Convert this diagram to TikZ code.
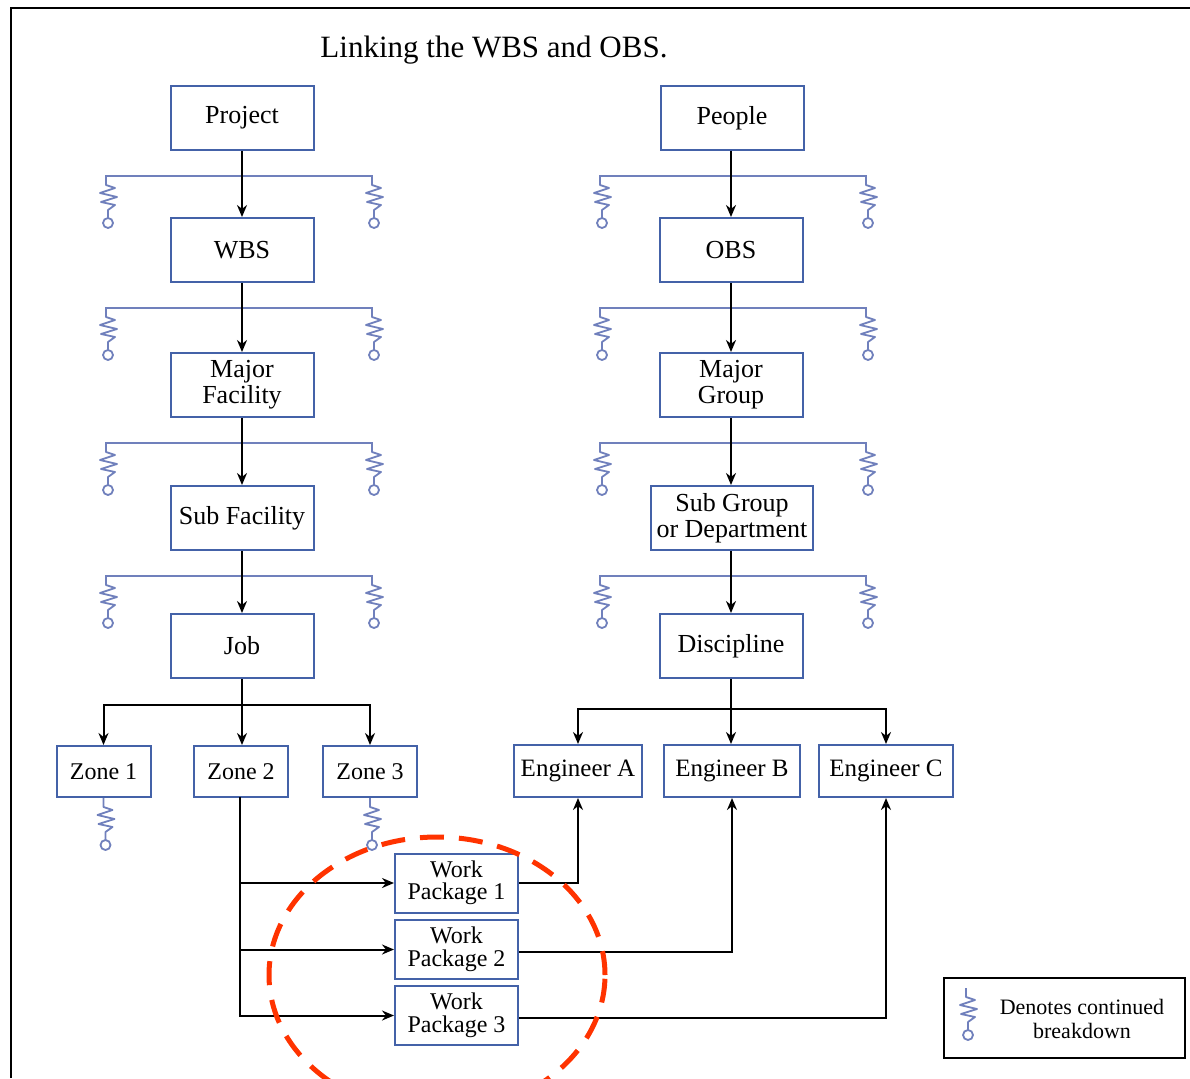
\documentclass[tikz,border=0pt]{standalone}
\usepackage{fontspec}
\setmainfont{Liberation Serif}
\usetikzlibrary{arrows.meta}
\definecolor{boxblue}{RGB}{68,98,168}
\definecolor{brblue}{RGB}{112,128,188}
\definecolor{redd}{RGB}{255,51,0}
\begin{document}
\begin{tikzpicture}[x=1pt,y=-1pt,
  box/.style={draw=boxblue,line width=2pt,fill=white,inner sep=0pt,align=center,font=\fontsize{26}{26}\selectfont},
  bigbox/.style={box,minimum width=143pt,minimum height=64pt},
  zonebox/.style={box,minimum width=94pt,minimum height=51pt,font=\fontsize{24}{24}\selectfont},
  engbox/.style={box,minimum height=52pt,font=\fontsize{25}{25}\selectfont},
  wpbox/.style={box,minimum width=123pt,minimum height=59pt,font=\fontsize{24}{22.5}\selectfont},
  arr/.style={draw=black,line width=2pt,-{Stealth[length=12pt,width=10pt]}},
  br/.style={draw=brblue,line width=1.8pt},
  squig/.pic={\draw[br,line join=round] (0,0) -- (0,9) -- (9,12) -- (-6,17) -- (11,21) -- (-5,26) -- (9,29) -- (2,34) -- (2,42);
              \draw[br] (2,47) circle (5pt);}
]
\useasboundingbox (0,0) rectangle (1190,1078);
% frame
\draw[line width=2.4pt] (11,1078) -- (11,8) -- (1190,8);
% title
\node[font=\fontsize{31}{32}\selectfont] (title) at (494,50) {Linking the WBS and OBS.};
% brackets
\foreach \y in {176,308,443,576}{
  \foreach \l/\r in {106/372,600/866}{
    \draw[br] (\l,\y+9) -- (\l,\y) -- (\r,\y) -- (\r,\y+9);
    \pic at (\l,\y) {squig};
    \pic at (\r,\y) {squig};
  }
}
% WBS column
\node[bigbox] (project) at (242,118) {Project};
\node[bigbox] (wbs) at (242,250) {WBS};
\node[bigbox] (major) at (242,385) {Major\\Facility};
\node[bigbox] (subfac) at (242,518) {Sub Facility};
\node[bigbox] (job) at (242,646) {Job};
% OBS column
\node[bigbox] (people) at (732,118) {People};
\node[bigbox] (obs) at (731,250) {OBS};
\node[bigbox] (mgroup) at (731,385) {Major\\Group};
\node[bigbox,minimum width=162pt] (subgrp) at (732,518) {Sub Group\\or Department};
\node[bigbox] (disc) at (731,646) {Discipline};
% zones
\node[zonebox] (zone1) at (103.5,771.5) {Zone 1};
\node[zonebox] (zone2) at (241,771.5) {Zone 2};
\node[zonebox] (zone3) at (370,771.5) {Zone 3};
% engineers
\node[engbox,minimum width=128pt] (engA) at (578,771) {Engineer A};
\node[engbox,minimum width=136pt] (engB) at (732,771) {Engineer B};
\node[engbox,minimum width=134pt] (engC) at (886,771) {Engineer C};
% work packages
\node[wpbox] (wp1) at (456.5,883) {Work\\Package 1};
\node[wpbox] (wp2) at (456.5,949.5) {Work\\Package 2};
\node[wpbox] (wp3) at (456.5,1015.5) {Work\\Package 3};
% vertical arrows
\draw[arr] (project) -- (wbs);
\draw[arr] (wbs) -- (major);
\draw[arr] (major) -- (subfac);
\draw[arr] (subfac) -- (job);
\draw[arr] (people.south -| obs) -- (obs);
\draw[arr] (obs) -- (mgroup);
\draw[arr] (mgroup) -- (subgrp.north -| mgroup);
\draw[arr] (subgrp.south -| disc) -- (disc);
% job to zones
\coordinate (jbus) at (242,705);
\draw[arr] (job.south) -- (jbus) -| (zone1.north);
\draw[arr] (jbus) -| (zone3.north);
\draw[arr] (jbus) -- (jbus |- zone2.north);
% discipline to engineers
\coordinate (dbus) at (731,709);
\draw[arr] (disc.south) -- (dbus) -| (engA.north);
\draw[arr] (dbus) -| (engC.north);
\draw[arr] (dbus) -- (dbus |- engB.north);
% zone squiggles
\pic at (zone1.south) {squig};
\pic at (zone3.south) {squig};
% zone 2 to work packages
\coordinate (zb) at (240,797);
\draw[arr] (zb) |- (wp3.west);
\draw[arr] (zb |- wp1.west) -- (wp1.west);
\draw[arr] (zb |- wp2.west) -- (wp2.west);
% work packages to engineers
\draw[arr] (wp1.east) -| (engA.south);
\draw[arr] ([yshift=-2pt]wp2.east) -| (engB.south);
\draw[arr] ([yshift=-2pt]wp3.east) -| (engC.south);
% red dashed ellipse
\draw[redd,line width=5pt,dash pattern=on 24pt off 15pt] (437,975) ellipse [x radius=168pt,y radius=138pt];
% legend
\node[draw=black,line width=2pt,fill=white,minimum width=241pt,minimum height=80pt,inner sep=0pt] (legend) at (1064.5,1018) {};
\pic at (966,988) {squig};
\node[font=\fontsize{22}{24}\selectfont,align=center] (legtxt) at (1082,1019) {Denotes continued\\breakdown};
\end{tikzpicture}
\end{document}
